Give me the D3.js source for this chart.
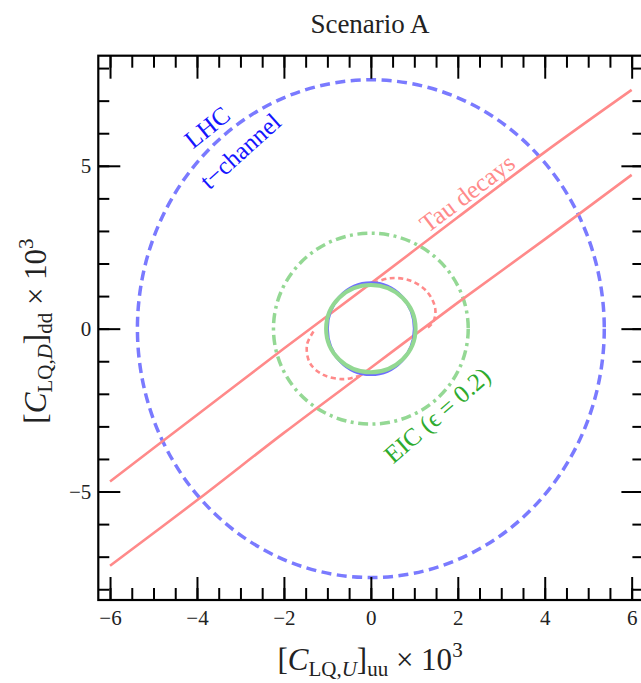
<!DOCTYPE html>
<html><head><meta charset="utf-8">
<script src="https://cdn.jsdelivr.net/npm/d3@7"></script>
<style>body{margin:0;background:#fff}svg{display:block}</style>
</head><body>
<script>
// ---- data ----
const xMajorTicks = [-6,-4,-2,0,2,4,6];
const xMinorTicks = [-6,-5.5,-5,-4.5,-4,-3.5,-3,-2.5,-2,-1.5,-1,-0.5,0,0.5,1,1.5,2,2.5,3,3.5,4,4.5,5,5.5,6];
const yMajorTicks = [-5,0,5];
const yMinorTicks = [-8,-7,-6,-5,-4,-3,-2,-1,0,1,2,3,4,5,6,7,8];
// Tau decay band edges
const tauX      = [-6,-4,-2,0,2,4,6];
const tauUpperY = [-4.69,-2.65,-0.61,1.39,3.42,5.42,7.33];
const tauLowerY = [-7.28,-5.27,-3.2,-1.2,0.8,2.74,4.72];
// dotted red caps
const capA_X = [0.06,0.44,0.90,1.29,1.48,1.44,1.29];
const capA_Y = [1.40,1.55,1.48,1.14,0.63,0.22,0.01];
const capB_X = [-1.32,-1.47,-1.40,-1.09,-0.63,-0.32,-0.09];
const capB_Y = [-0.09,-0.50,-1.06,-1.42,-1.55,-1.47,-1.37];
// ellipses centred on the origin: semi-axes
const ellNames = ["LHC","EIC","LHCinner","EICinner"];
const ellRx    = [5.37,2.24,1.00,1.03];
const ellRy    = [7.64,2.93,1.41,1.34];

const W=641,H=683;
const svg=d3.select("body").append("svg").attr("width",W).attr("height",H);
const FONT='"Liberation Serif","Times New Roman",serif';
const x=d3.scaleLinear().domain([-6.27,6.27]).range([98.3,643.4]);
const y=d3.scaleLinear().domain([-8.33,8.38]).range([600,55.7]);

const defs=svg.append("defs");
defs.append("clipPath").attr("id","clip").append("rect")
  .attr("x",x(-6.27)).attr("y",y(8.38)).attr("width",x(6.27)-x(-6.27)).attr("height",y(-8.33)-y(8.38));
const plot=svg.append("g").attr("clip-path","url(#clip)");

const ellStyle={
  LHC:{stroke:"#7a7aff",w:3.5,dash:"10,5.5"},
  EIC:{stroke:"#94d894",w:3.5,dash:"10,4.5,3,4.5"},
  LHCinner:{stroke:"#6e6eff",w:3,dash:null},
  EICinner:{stroke:"#92d892",w:4,dash:null}
};
function drawEll(i){
  const s=ellStyle[ellNames[i]];
  plot.append("ellipse").attr("cx",x(0)).attr("cy",y(0))
    .attr("rx",x(ellRx[i])-x(0)).attr("ry",y(0)-y(ellRy[i]))
    .attr("fill","none").attr("stroke",s.stroke).attr("stroke-width",s.w)
    .attr("stroke-dasharray",s.dash);
}
drawEll(0); drawEll(1);

const line=d3.line().x(d=>x(d[0])).y(d=>y(d[1])).curve(d3.curveCatmullRom);
const red="#ff8a8a";
[tauUpperY,tauLowerY].forEach(ys=>{
  plot.append("path").attr("d",line(tauX.map((v,i)=>[v,ys[i]])))
    .attr("fill","none").attr("stroke",red).attr("stroke-width",2.6);
});
[[capA_X,capA_Y],[capB_X,capB_Y]].forEach(([xs,ys])=>{
  plot.append("path").attr("d",line(xs.map((v,i)=>[v,ys[i]])))
    .attr("fill","none").attr("stroke",red).attr("stroke-width",2.6).attr("stroke-dasharray","5,3.5");
});
drawEll(2); drawEll(3);

// ---- axes ----
function styleAxis(g){g.select(".domain").remove();g.selectAll(".tick line").attr("stroke","#000").attr("stroke-width",2);}
svg.append("g").attr("transform",`translate(0,${y(-8.33)})`)
  .call(d3.axisBottom(x).tickValues(xMinorTicks).tickSize(-12).tickFormat("")).call(styleAxis);
const xb=svg.append("g").attr("transform",`translate(0,${y(-8.33)})`)
  .call(d3.axisBottom(x).tickValues(xMajorTicks).tickSize(-23)).call(styleAxis);
xb.selectAll("text").attr("y",25).attr("dy",0).attr("font-family",FONT).attr("font-size",21).attr("fill","#222");
svg.append("g").attr("transform",`translate(0,${y(8.38)})`)
  .call(d3.axisTop(x).tickValues(xMinorTicks).tickSize(-12).tickFormat("")).call(styleAxis);
svg.append("g").attr("transform",`translate(0,${y(8.38)})`)
  .call(d3.axisTop(x).tickValues(xMajorTicks).tickSize(-23).tickFormat("")).call(styleAxis);
svg.append("g").attr("transform",`translate(${x(-6.27)},0)`)
  .call(d3.axisLeft(y).tickValues(yMinorTicks).tickSize(-11).tickFormat("")).call(styleAxis);
const yl=svg.append("g").attr("transform",`translate(${x(-6.27)},0)`)
  .call(d3.axisLeft(y).tickValues(yMajorTicks).tickSize(-22)).call(styleAxis);
yl.selectAll("text").attr("x",-7).attr("dy","0.34em").attr("font-family",FONT).attr("font-size",21).attr("fill","#222");
svg.append("g").attr("transform",`translate(${x(6.27)},0)`)
  .call(d3.axisRight(y).tickValues(yMinorTicks).tickSize(-11).tickFormat("")).call(styleAxis);
svg.append("g").attr("transform",`translate(${x(6.27)},0)`)
  .call(d3.axisRight(y).tickValues(yMajorTicks).tickSize(-22).tickFormat("")).call(styleAxis);

svg.append("rect").attr("x",x(-6.27)).attr("y",y(8.38)).attr("width",x(6.27)-x(-6.27)).attr("height",y(-8.33)-y(8.38))
  .attr("fill","none").attr("stroke","#000").attr("stroke-width",2.2);

// ---- texts ----
svg.append("text").attr("x",370).attr("y",33).attr("text-anchor","middle")
  .attr("font-family",FONT).attr("font-size",27).attr("fill","#222").text("Scenario A");

function mathLabel(sel,parts,big,small){
  let cur=0;
  parts.forEach(p=>{
    const target=p.pos==="sub"?6:p.pos==="sup"?-13:0;
    sel.append("tspan").attr("dy",target-cur).attr("font-size",p.pos==="base"?big:small)
      .attr("font-style",p.it?"italic":"normal").text(p.t);
    cur=target;
  });
}
const xlab=svg.append("text").attr("x",370).attr("y",670).attr("text-anchor","middle")
  .attr("font-family",FONT).attr("fill","#222");
mathLabel(xlab,[{t:"[",pos:"base"},{t:"C",pos:"base",it:1},{t:"LQ,",pos:"sub"},{t:"U",pos:"sub",it:1},
  {t:"]",pos:"base"},{t:"uu",pos:"sub"},{t:" × 10",pos:"base"},{t:"3",pos:"sup"}],31,21);
const ylab=svg.append("text").attr("transform","translate(46,331) rotate(-90)").attr("text-anchor","middle")
  .attr("font-family",FONT).attr("fill","#222");
mathLabel(ylab,[{t:"[",pos:"base"},{t:"C",pos:"base",it:1},{t:"LQ,",pos:"sub"},{t:"D",pos:"sub",it:1},
  {t:"]",pos:"base"},{t:"dd",pos:"sub"},{t:" × 10",pos:"base"},{t:"3",pos:"sup"}],31,21);

function rotLabel(txt,px,py,ang,col,size){
  svg.append("text").attr("transform",`translate(${px},${py}) rotate(${ang})`).attr("text-anchor","middle")
    .attr("dy","0.35em").attr("font-family",FONT).attr("font-size",size).attr("fill",col).text(txt);
}
rotLabel("LHC",207,127,-39,"#1515ff",25);
rotLabel("t−channel",240,151,-42,"#1515ff",25);
rotLabel("Tau decays",467,193,-37,"#ff8a8a",25);
rotLabel("EIC (ϵ = 0.2)",437,415,-41,"#2eab2e",25);
</script>
</body></html>
